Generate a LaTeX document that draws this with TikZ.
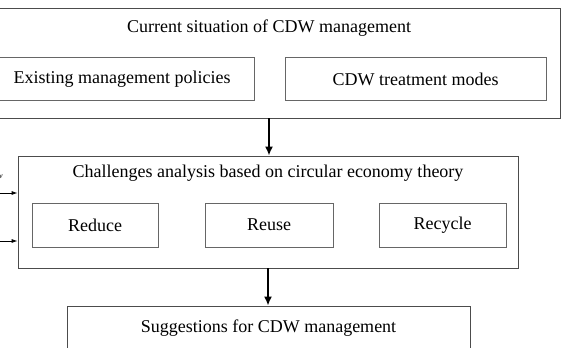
\documentclass[tikz,border=0pt]{standalone}
\usepackage{fontspec}
\setmainfont{Liberation Serif}
\usetikzlibrary{positioning, arrows.meta}
\tikzset{outerbox/.style={draw=black!70, line width=0.8pt, inner sep=0pt}}
\tikzset{innerbox/.style={draw=black!60, line width=0.8pt, inner sep=0pt}}
\tikzset{arr/.style={draw, -{Latex[length=9pt, width=8pt]}, line width=1.8pt}}
\tikzset{arr2/.style={draw, -{Latex[length=6pt, width=4pt]}, line width=0.8pt}}

\begin{document}
\begin{tikzpicture}[x=1pt, y=-1pt, font=\fontsize{18}{21}\selectfont]
	\useasboundingbox (0,0) rectangle (565,348);
	% current situation
	\node[outerbox, minimum width=582pt, minimum height=110pt] (cur) at (269,63) {};
	\node (curtitle) at (269,28) {Current situation of CDW management};
	\node[innerbox, minimum width=264pt, minimum height=43pt] (policy) at (122,79) {Existing management policies};
	\node[innerbox, minimum width=261pt, minimum height=43pt] (modes) at (415.5,79) {CDW treatment modes};
	%
	% challenges
	\node[outerbox, minimum width=500pt, minimum height=112pt] (chal) at (268,212) {};
	\node (chaltitle) at (268,173) {Challenges analysis based on circular economy theory};
	\node[innerbox, minimum width=126pt, minimum height=44pt] (reduce) at (95,225) {Reduce};
	\node[innerbox, minimum width=128pt, minimum height=44pt] (reuse) at (269,225) {Reuse};
	\node[innerbox, minimum width=127pt, minimum height=44pt] (recycle) at (442.5,225) {Recycle};
	%
	% suggestions
	\node[outerbox, minimum width=403pt, minimum height=50pt] (sug) at (268.5,331) {};
	\node (sugtitle) at (268.5,328) {Suggestions for CDW management};
	%
	\draw[arr] (cur.south) -- (cur.south |- chal.north);
	\draw[arr] (chal.south) -- (chal.south |- sug.north);
	% inputs from the left
	\node[anchor=east, inner sep=0pt, font=\itshape\fontsize{8}{9}\selectfont] (cut) at (3,177) {w};
	\coordinate (in1) at (-10,193);
	\coordinate (in2) at (-10,241);
	\draw[arr2] (in1) -- (in1 -| chal.west);
	\draw[arr2] (in2) -- (in2 -| chal.west);
\end{tikzpicture}
\end{document}
